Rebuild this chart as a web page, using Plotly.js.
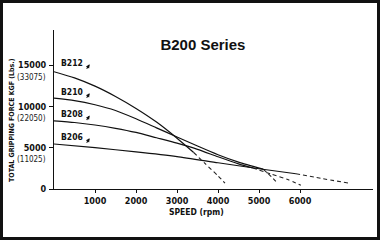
<!DOCTYPE html>
<html><head><meta charset="utf-8">
<script src="https://cdn.plot.ly/plotly-3.0.1.min.js"></script>
<style>
html,body{margin:0;padding:0;background:#fff;}
#wrap{position:relative;width:380px;height:240px;}
#chart{width:380px;height:240px;}
#frame{position:absolute;left:0;top:0;width:380px;height:240px;box-sizing:border-box;border:3px solid #111;pointer-events:none;}
</style></head>
<body><div id="wrap"><div id="chart"></div><div id="frame"></div></div>
<script>
// Speed (rpm) and gripping force (kgf)
const models = ["B212", "B210", "B208", "B206"];

const b212SolidRpm = [0, 500, 1000, 1500, 2000, 2500, 3000, 3400];
const b212SolidKgf = [14200, 13450, 12450, 11200, 9750, 8100, 6150, 4450];
const b212DashRpm  = [3400, 3700, 4000, 4170];
const b212DashKgf  = [4450, 3000, 1600, 700];

const b210SolidRpm = [0, 500, 1000, 1500, 2000, 2500, 3000, 3500, 4000, 4500, 5100];
const b210SolidKgf = [11000, 10700, 10200, 9500, 8500, 7400, 6300, 5200, 4150, 3250, 2400];
const b210DashRpm  = [5100, 5300, 5460];
const b210DashKgf  = [2400, 1500, 650];

const b208SolidRpm = [0, 500, 1000, 1500, 2000, 2500, 3000, 3500, 4000, 4500, 4850];
const b208SolidKgf = [8250, 8050, 7750, 7350, 6850, 6200, 5550, 4800, 3900, 3050, 2550];
const b208DashRpm  = [4850, 5300, 5700, 6020];
const b208DashKgf  = [2550, 1800, 1150, 450];

const b206SolidRpm = [0, 1000, 2000, 3000, 4000, 5000, 5900];
const b206SolidKgf = [5450, 5000, 4500, 3930, 3180, 2450, 1850];
const b206DashRpm  = [5900, 6500, 7200];
const b206DashKgf  = [1850, 1300, 700];

const xTickVals = [1000, 2000, 3000, 4000, 5000, 6000];
const yTickVals = [0, 5000, 10000, 15000];
const yTickLbs  = ["", "(11025)", "(22050)", "(33075)"];

// label anchor positions (rpm, kgf) for the model names
const labelRpm = [110, 110, 110, 110];
const labelKgf = [15300, 11800, 9100, 6350];

const NARROW = "'Liberation Sans Narrow', 'DejaVu Sans Condensed', 'Arial Narrow', Arial, sans-serif";
const line = {color: "#111", width: 1.2};
const dash = {color: "#222", width: 1.1, dash: "4px,3px"};

const series = [
  [b212SolidRpm, b212SolidKgf, b212DashRpm, b212DashKgf],
  [b210SolidRpm, b210SolidKgf, b210DashRpm, b210DashKgf],
  [b208SolidRpm, b208SolidKgf, b208DashRpm, b208DashKgf],
  [b206SolidRpm, b206SolidKgf, b206DashRpm, b206DashKgf]
];
const traces = [];
series.forEach((s, i) => {
  traces.push({x: s[0], y: s[1], mode: "lines", line: Object.assign({shape: "spline", smoothing: 0.6}, line), name: models[i], hoverinfo: "skip"});
  traces.push({x: s[2], y: s[3], mode: "lines", line: Object.assign({shape: "spline", smoothing: 0.6}, dash), name: models[i] + " ext", hoverinfo: "skip"});
});

const annotations = [];
models.forEach((m, i) => {
  annotations.push({x: labelRpm[i], y: labelKgf[i], xref: "x", yref: "y", text: "<b>" + m + "</b>",
    showarrow: false, xanchor: "left", yanchor: "middle", font: {family: NARROW, size: 8.5, color: "#111"}});
  annotations.push({x: labelRpm[i] + 760, y: labelKgf[i] - 200, xref: "x", yref: "y", text: "",
    showarrow: true, arrowhead: 2, arrowsize: 0.7, arrowwidth: 1.1, arrowcolor: "#111", ax: -4, ay: 6, standoff: 0, startstandoff: 0});
});
yTickVals.forEach((v, i) => {
  if (!yTickLbs[i]) return;
  annotations.push({x: 0, xref: "paper", xshift: -6, y: v, yref: "y", yshift: -12, text: yTickLbs[i],
    showarrow: false, xanchor: "right", yanchor: "middle", font: {family: NARROW, size: 8, color: "#222"}});
});
annotations.push({x: 0, xref: "paper", xshift: -42, y: 0.434, yref: "paper", text: "<b>TOTAL GRIPPING FORCE KGF (Lbs.)</b>",
  textangle: -90, showarrow: false, xanchor: "center", yanchor: "middle", font: {family: NARROW, size: 7, color: "#111"}});
annotations.push({x: 0.447, xref: "paper", y: 0, yref: "paper", yshift: -23, text: "<b>SPEED (rpm)</b>",
  showarrow: false, xanchor: "center", yanchor: "middle", font: {family: NARROW, size: 8.5, color: "#111"}});

const layout = {
  width: 380, height: 240,
  margin: {l: 54, r: 7, t: 30, b: 51},
  paper_bgcolor: "#fff", plot_bgcolor: "#fff",
  showlegend: false,
  title: {text: "<b>B200 Series</b>", x: 0.534, xanchor: "center", y: 1 - 45/240, yanchor: "middle",
          font: {family: "'Liberation Sans', Arial, sans-serif", size: 15, color: "#111"}},
  xaxis: {range: [0, 7780], tickvals: xTickVals, ticktext: xTickVals.map(v => "<b>" + v + "</b>"),
          showgrid: false, zeroline: false, showline: true, linecolor: "#111", linewidth: 1.3,
          ticks: "outside", ticklen: 3, tickcolor: "#111", tickwidth: 1,
          tickfont: {family: NARROW, size: 9, color: "#111"}, fixedrange: true},
  yaxis: {range: [0, 19250], tickvals: yTickVals, ticktext: yTickVals.map(v => "<b>" + v + "</b>"),
          showgrid: false, zeroline: false, showline: true, linecolor: "#111", linewidth: 1,
          ticks: "outside", ticklen: 4, tickcolor: "#111", tickwidth: 1, ticklabelstandoff: 1,
          tickfont: {family: NARROW, size: 9, color: "#111"}, fixedrange: true},
  annotations: annotations
};
Plotly.newPlot("chart", traces, layout, {staticPlot: true, displayModeBar: false});
</script></body></html>
